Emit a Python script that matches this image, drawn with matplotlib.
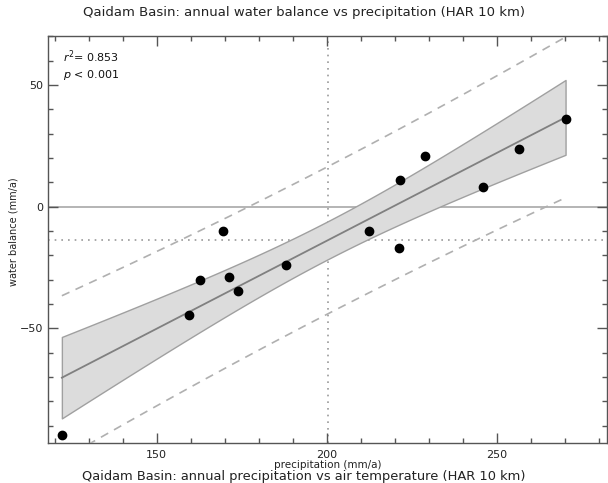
import numpy as np
import matplotlib
matplotlib.use("Agg")
import matplotlib.pyplot as plt
from matplotlib.ticker import MultipleLocator

# data (precipitation mm/a, water balance mm/a)
precip = np.array([122.1, 159.6, 162.6, 169.6, 171.3, 174.0, 187.9,
                   212.4, 221.3, 221.6, 229.0, 246.1, 256.6, 270.3])
wbal = np.array([-93.8, -44.7, -30.0, -10.2, -29.0, -34.9, -24.0,
                 -10.1, -16.9, 11.1, 20.8, 8.1, 23.6, 35.8])
r2_text = "0.853"
p_text = "0.001"
title = "Qaidam Basin: annual water balance vs precipitation (HAR 10 km)"
next_title = "Qaidam Basin: annual precipitation vs air temperature (HAR 10 km)"
xlabel = "precipitation (mm/a)"
ylabel = "water balance (mm/a)"
xticks = [150, 200, 250]
yticks = [-50, 0, 50]

# regression statistics
n = len(precip)
slope, intercept = np.polyfit(precip, wbal, 1)
xm, ym = precip.mean(), wbal.mean()
resid = wbal - (slope * precip + intercept)
s = np.sqrt(np.sum(resid ** 2) / (n - 2))
sxx = np.sum((precip - xm) ** 2)
t = 2.1788  # t(0.975, 12)
xs = np.linspace(precip.min(), precip.max(), 200)
yfit = slope * xs + intercept
ci = t * s * np.sqrt(1.0 / n + (xs - xm) ** 2 / sxx)
pi = t * s * np.sqrt(1 + 1.0 / n + (xs - xm) ** 2 / sxx)

plt.rcParams['font.family'] = ['DejaVu Sans']
fig = plt.figure(figsize=(6.08, 4.83), dpi=100)
ax = fig.add_axes([0.0794, 0.0822, 0.9190, 0.8433])

ax.axhline(0, color="#a8a8a8", lw=1.2, zorder=1)
ax.axhline(ym, color="#999999", lw=1.2, ls=(0, (1, 3)), zorder=1)
ax.axvline(xm, color="#999999", lw=1.2, ls=(0, (1, 3)), zorder=1)

ax.fill_between(xs, yfit - ci, yfit + ci, facecolor="#dcdcdc",
                edgecolor="#a0a0a0", lw=1.0, zorder=2)
ax.plot(xs, yfit, color="#808080", lw=1.3, zorder=3)
ax.plot(xs, yfit + pi, color="#b0b0b0", lw=1.2, ls=(0, (5, 4)), zorder=3)
ax.plot(xs, yfit - pi, color="#b0b0b0", lw=1.2, ls=(0, (5, 4)), zorder=3)

ax.plot(precip, wbal, 'o', color="black", ms=6, zorder=4)

ax.set_xlim(118.1, 282.5)
ax.set_ylim(-97.3, 70.1)
ax.set_xticks(xticks)
ax.set_yticks(yticks)
ax.xaxis.set_minor_locator(MultipleLocator(10))
ax.yaxis.set_minor_locator(MultipleLocator(10))
ax.tick_params(which='both', direction='in', top=True, right=True,
               colors="#555555", labelcolor="#222222", labelsize=8)
ax.tick_params(axis='x', which='major', pad=5)
ax.tick_params(which='major', length=7.5, width=1.0)
ax.tick_params(which='minor', length=3.6, width=1.0)
for sp in ax.spines.values():
    sp.set_color("#555555")
    sp.set_linewidth(1.0)

ax.set_xlabel(xlabel, fontsize=7.5, labelpad=0, color="#222222")
ax.set_ylabel(ylabel, fontsize=7, color="#222222")
ax.yaxis.set_label_coords(-0.053, 0.52)

ax.text(0.026, 0.95, r"$r^2$= " + r2_text, transform=ax.transAxes,
        fontsize=8, va="center", ha="left", color="#111111")
ax.text(0.026, 0.905, r"$p$ < " + p_text, transform=ax.transAxes,
        fontsize=8, va="center", ha="left", color="#111111")

fig.text(0.5, 1 - 12.5 / 483, title, ha="center", va="center",
         fontsize=9.5, color="#222222")
fig.text(0.5, 0.3 / 483, next_title, ha="center", va="bottom",
         fontsize=9.4, color="#222222")

fig.savefig("out.png", dpi=100)
